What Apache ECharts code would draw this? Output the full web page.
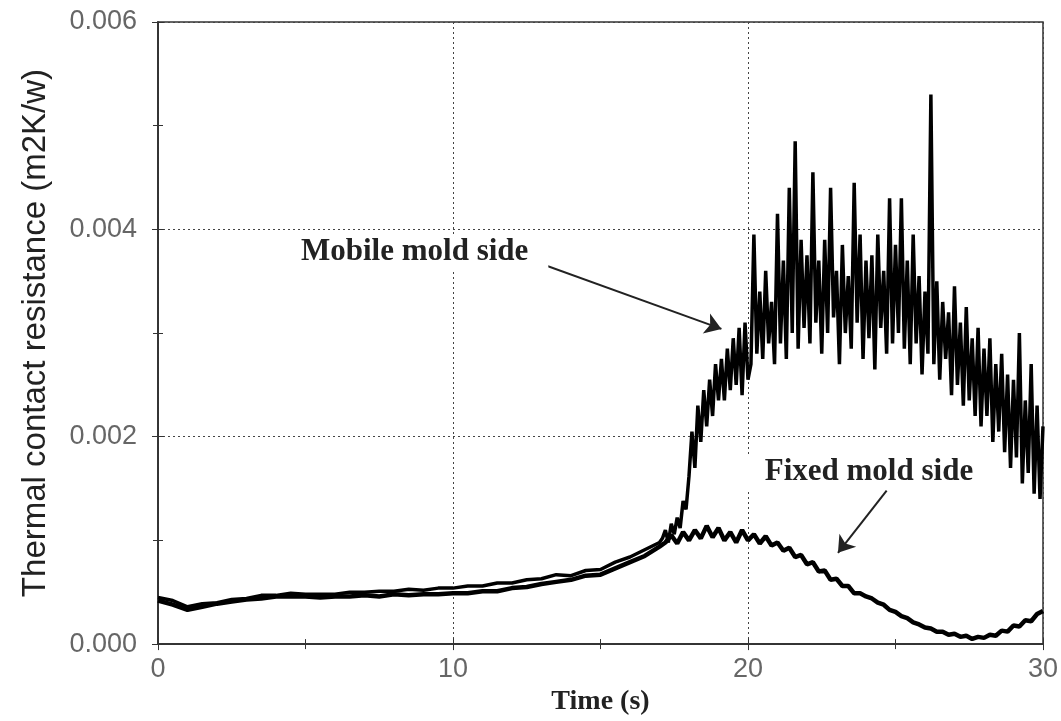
<!DOCTYPE html>
<html>
<head>
<meta charset="utf-8">
<script src="https://cdn.jsdelivr.net/npm/echarts@6/dist/echarts.min.js"></script>
<style>
html,body{margin:0;padding:0;background:#fff}
#main{width:1061px;height:721px}
</style>
</head>
<body>
<div id="main"></div>
<script>
/* global echarts */

// values in 1e-3 m2K/W
var xTicks = [0, 10, 20, 30]
var yTicks = [0.000, 0.002, 0.004, 0.006]

var earlyTime = [0,0.5,1,1.5,2,2.5,3,3.5,4,4.5,5,5.5,6,6.5,7,7.5,8,8.5,9,9.5,10,10.5,11,11.5,12,12.5,13,13.5,14,14.5,15,15.5,16,16.5,17]
var mobileEarly = [0.45,0.42,0.36,0.39,0.40,0.43,0.44,0.47,0.47,0.49,0.48,0.48,0.48,0.50,0.50,0.51,0.51,0.53,0.52,0.54,0.54,0.56,0.56,0.59,0.59,0.62,0.63,0.67,0.66,0.71,0.72,0.79,0.84,0.91,0.98]
var fixedEarly = [0.42,0.38,0.33,0.36,0.39,0.41,0.43,0.44,0.46,0.46,0.46,0.45,0.46,0.46,0.47,0.46,0.48,0.47,0.48,0.48,0.49,0.49,0.51,0.51,0.54,0.55,0.58,0.60,0.62,0.66,0.67,0.73,0.79,0.85,0.94]

// 17.1 .. 30.0 every 0.1 s
var mobileLateStart = 17.1, mobileLateStep = 0.1
var mobileLate = [
	1.02,1.10,0.98,1.16,1.06,1.22,1.12,1.38,1.30,1.62,
	2.05,1.70,2.30,1.95,2.45,2.10,2.55,2.20,2.70,2.35,
	2.75,2.35,2.85,2.45,2.95,2.50,3.05,2.40,3.10,2.55,
	2.70,3.95,2.80,3.40,2.75,3.60,2.90,3.30,2.70,4.15,
	2.90,3.70,2.75,4.40,3.00,4.85,2.85,3.90,3.05,3.75,
	2.90,4.55,3.10,3.70,2.80,3.90,3.00,4.40,3.15,3.60,
	2.70,3.85,3.00,3.55,2.85,4.45,3.10,3.95,2.75,3.70,
	2.95,3.75,2.65,3.95,3.05,3.60,2.80,4.30,2.90,3.85,
	3.00,4.30,2.85,3.70,2.70,3.95,2.90,3.55,2.60,3.40,
	2.80,5.30,2.70,3.50,2.55,3.30,2.75,3.20,2.40,3.45,
	2.50,3.10,2.30,3.25,2.35,2.95,2.20,3.05,2.10,2.85,
	2.20,2.95,1.95,2.70,2.05,2.80,1.85,2.60,1.70,2.55,
	1.80,3.00,1.55,2.35,1.65,2.70,1.45,2.30,1.40,2.10
]

// 17.2 .. 30.0 every 0.2 s
var fixedLateStart = 17.2, fixedLateStep = 0.2
var fixedLate = [
	0.98,1.05,0.97,1.08,1.00,1.10,1.02,1.14,1.03,1.12,
	1.00,1.08,0.98,1.10,1.00,1.06,0.97,1.04,0.95,0.98,
	0.90,0.93,0.84,0.86,0.77,0.79,0.70,0.71,0.62,0.63,
	0.56,0.56,0.49,0.49,0.46,0.44,0.40,0.38,0.33,0.31,
	0.27,0.25,0.21,0.19,0.16,0.15,0.12,0.12,0.09,0.10,
	0.07,0.08,0.05,0.07,0.06,0.09,0.08,0.13,0.12,0.18,
	0.17,0.23,0.22,0.29,0.32
]

var annotations = [
	{text: 'Mobile mold side', at: [8.7, 0.00378], from: [12.0, 0.00377], to: [19.1, 0.00304]},
	{text: 'Fixed mold side', at: [24.1, 0.00166], from: [24.7, 0.00148], to: [23.05, 0.00088]}
]

var app = (function(){
	var chart = echarts.init(document.getElementById('main'))

	function pairs(times, vals){
		return vals.map(function(v, i){ return [times[i], v / 1000] })
	}
	function stepped(start, step, vals){
		return vals.map(function(v, i){ return [+(start + i * step).toFixed(2), v / 1000] })
	}

	var mobileData = pairs(earlyTime, mobileEarly).concat(stepped(mobileLateStart, mobileLateStep, mobileLate))
	var fixedData = pairs(earlyTime, fixedEarly).concat(stepped(fixedLateStart, fixedLateStep, fixedLate))

	var tickFont = {fontFamily: 'Liberation Sans', fontSize: 27, color: '#666'}
	var dotted = {show: true, lineStyle: {color: '#444', width: 1, type: [2, 3]}}

	var option = {
		animation: false,
		backgroundColor: '#fff',
		grid: {left: 158, right: 18, top: 22, bottom: 55, show: true, borderColor: '#333', borderWidth: 1.5},
		xAxis: [{
			type: 'value', min: xTicks[0], max: xTicks[xTicks.length - 1], interval: 10,
			name: 'Time (s)', nameLocation: 'middle', nameGap: 24,
			nameTextStyle: {fontFamily: 'Liberation Serif', fontWeight: 'bold', fontSize: 28, color: '#222'},
			axisLine: {lineStyle: {color: '#333', width: 1.5}},
			axisTick: {inside: true, length: 6, lineStyle: {color: '#333'}},
			minorTick: {show: true, splitNumber: 2, length: 5, lineStyle: {color: '#333'}},
			axisLabel: Object.assign({margin: 12}, tickFont),
			splitLine: dotted
		}, {
			type: 'value', position: 'top', min: 0, max: 30, interval: 10,
			axisLine: {lineStyle: {color: '#333', width: 1.5}},
			axisTick: {inside: true, length: 6, lineStyle: {color: '#333'}},
			minorTick: {show: true, splitNumber: 2, length: 5, lineStyle: {color: '#333'}},
			axisLabel: {show: false}, splitLine: {show: false}
		}],
		yAxis: [{
			type: 'value', min: yTicks[0], max: yTicks[yTicks.length - 1], interval: 0.002,
			name: 'Thermal contact resistance (m2K/w)', nameLocation: 'middle', nameGap: 106,
			nameTextStyle: {fontFamily: 'Liberation Sans', fontSize: 33, color: '#222'},
			axisLine: {lineStyle: {color: '#333', width: 1.5}},
			axisTick: {inside: true, length: 6, lineStyle: {color: '#333'}},
			minorTick: {show: true, splitNumber: 2, length: 5, lineStyle: {color: '#333'}},
			axisLabel: Object.assign({margin: 21, formatter: function(v){ return v.toFixed(3) }}, tickFont),
			splitLine: dotted
		}, {
			type: 'value', position: 'right', min: 0, max: 0.006, interval: 0.002,
			axisLine: {lineStyle: {color: '#333', width: 1.5}},
			axisTick: {inside: true, length: 6, lineStyle: {color: '#333'}},
			minorTick: {show: true, splitNumber: 2, length: 5, lineStyle: {color: '#333'}},
			axisLabel: {show: false}, splitLine: {show: false}
		}],
		series: [{
			name: 'Fixed mold side', type: 'line', data: fixedData, showSymbol: false,
			lineStyle: {color: '#000', width: 4.5}
		}, {
			name: 'Mobile mold side', type: 'line', data: mobileData, showSymbol: false,
			lineStyle: {color: '#000', width: 3.5},
			markLine: {
				silent: true, symbol: ['none', 'arrow'], symbolSize: 16,
				label: {show: false},
				lineStyle: {color: '#222', width: 2, type: 'solid'},
				data: annotations.map(function(a){
					return [{coord: a.from}, {coord: a.to}]
				})
			}
		}]
	}
	chart.setOption(option)

	chart.setOption({
		graphic: annotations.map(function(a){
			var p = chart.convertToPixel({gridIndex: 0}, a.at)
			return {
				type: 'text', x: p[0], y: p[1], z: 100,
				style: {
					text: a.text, fill: '#222', align: 'center', verticalAlign: 'middle',
					font: 'bold 31px "Liberation Serif"',
					backgroundColor: '#fff', padding: [2, 20]
				}
			}
		})
	})

	return {chart: chart}
})()
</script>
</body>
</html>
